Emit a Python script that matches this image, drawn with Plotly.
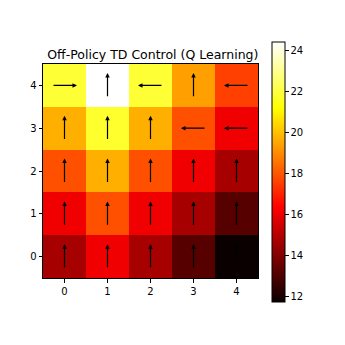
import plotly.graph_objects as go

cols = [0, 1, 2, 3, 4]
rows = [0, 1, 2, 3, 4]
# state values, rows listed from bottom (0) to top (4)
values = [
    [14.7, 16.1, 14.7, 13.2, 11.76],
    [16.1, 17.9, 16.1, 14.7, 13.2],
    [17.9, 19.7, 17.9, 16.1, 14.7],
    [19.7, 21.8, 19.7, 17.9, 16.1],
    [21.9, 24.44, 21.9, 19.4, 17.6],
]
# greedy policy per cell (same layout)
policy = [
    ["up", "up", "up", "up", "up"],
    ["up", "up", "up", "up", "up"],
    ["up", "up", "up", "up", "up"],
    ["up", "up", "up", "left", "left"],
    ["right", "up", "left", "up", "left"],
]
cbar_ticks = [12, 14, 16, 18, 20, 22, 24]

hot = [[0.0, "rgb(11,0,0)"], [0.365, "rgb(255,0,0)"],
       [0.746, "rgb(255,255,0)"], [1.0, "rgb(255,255,255)"]]

fig = go.Figure(go.Heatmap(
    z=values, x=cols, y=rows, colorscale=hot,
    colorbar=dict(
        thickness=12.7, thicknessmode="pixels", len=260, lenmode="pixels",
        x=1.064, xanchor="left", xpad=0, y=0.497, yanchor="middle", ypad=0,
        outlinewidth=1, outlinecolor="black",
        tickvals=cbar_ticks, ticks="outside", ticklen=3.5, tickcolor="black",
        tickfont=dict(family="DejaVu Sans", size=10, color="black"),
    ),
))

vec = {"up": (0, 1), "down": (0, -1), "left": (-1, 0), "right": (1, 0)}
half = 0.29
annotations = []
for r in rows:
    for c in cols:
        dx, dy = vec[policy[r][c]]
        annotations.append(dict(
            x=c + dx * half, y=r + dy * half,
            ax=c - dx * half, ay=r - dy * half,
            xref="x", yref="y", axref="x", ayref="y",
            showarrow=True, arrowhead=2, arrowsize=0.75, arrowwidth=1.2,
            arrowcolor="black", text="",
        ))

axis_common = dict(
    range=[-0.5, 4.5], tickvals=[0, 1, 2, 3, 4], ticks="outside",
    ticklen=3.5, tickcolor="black", showline=True, linecolor="black",
    linewidth=1, mirror=True, showgrid=False, zeroline=False,
    tickfont=dict(family="DejaVu Sans", size=10, color="black"),
)
fig.update_layout(
    width=345, height=345,
    margin=dict(l=43, r=87, t=64, b=67),
    paper_bgcolor="white", plot_bgcolor="white",
    title=dict(text="Off-Policy TD Control (Q Learning)", x=0.443, xanchor="center",
               y=1 - 55 / 345, yanchor="middle",
               font=dict(family="DejaVu Sans", size=12.5, color="black")),
    xaxis=axis_common, yaxis=dict(**axis_common),
    annotations=annotations,
)
fig.write_html("out.html")
